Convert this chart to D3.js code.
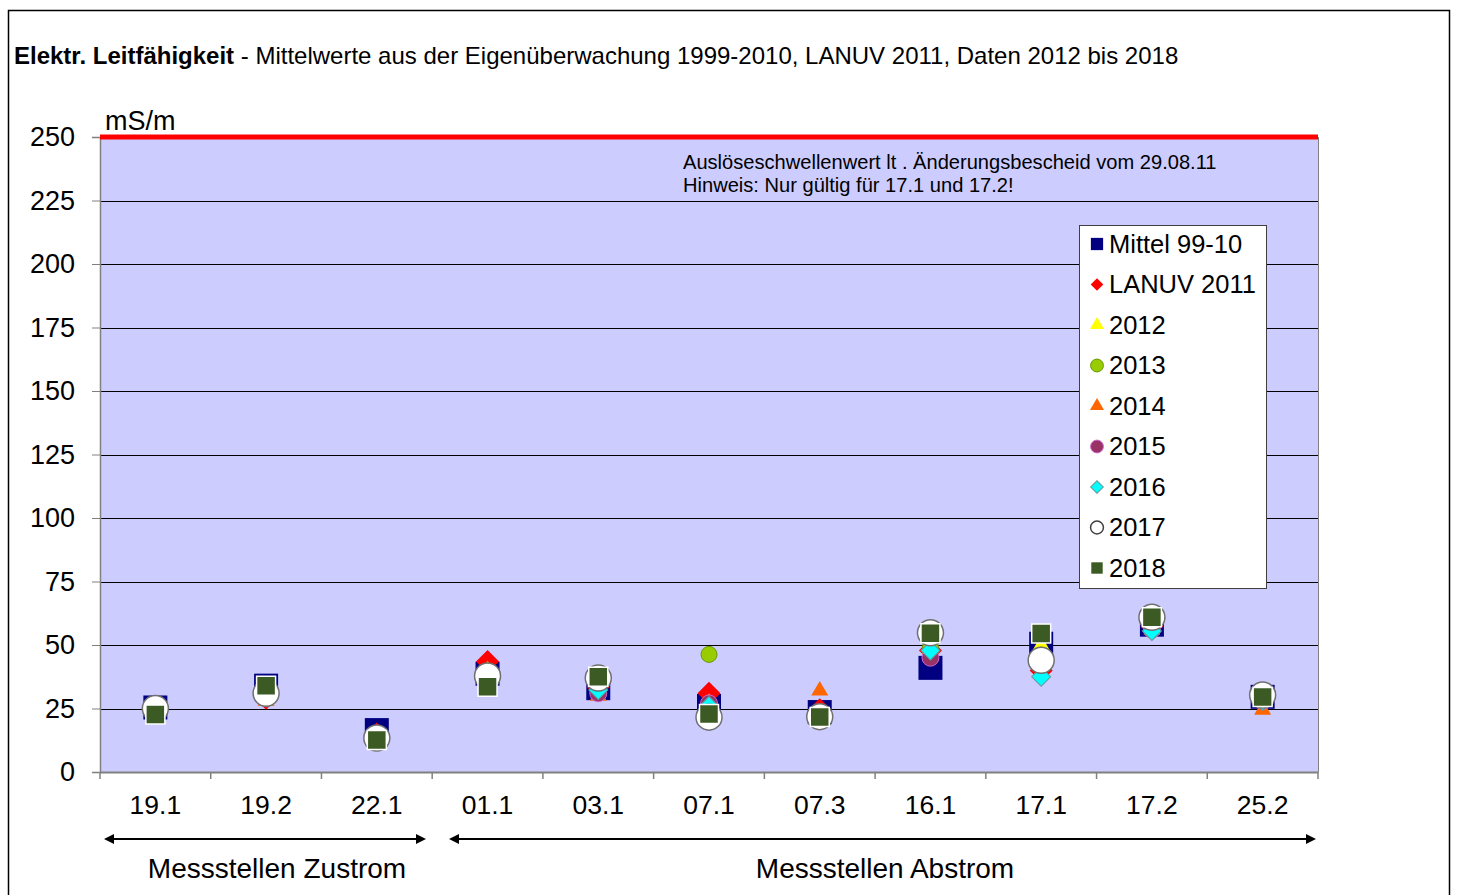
<!DOCTYPE html>
<html>
<head>
<meta charset="utf-8">
<script src="https://cdn.jsdelivr.net/npm/d3@7"></script>
<style>
  body { margin: 0; background: #fff; }
  svg text { font-family: "Liberation Sans", Arial, sans-serif; }
</style>
</head>
<body>
<div id="chart"></div>
<script>
'use strict';

// Messstellen
var stations = ['19.1', '19.2', '22.1', '01.1', '03.1', '07.1', '07.3', '16.1', '17.1', '17.2', '25.2'];
var yTicks = [0, 25, 50, 75, 100, 125, 150, 175, 200, 225, 250];
var threshold = 250;

// series values (mS/m)
var mittel = [25.4, 34, 16.5, 38.7, 33, 26, 23.6, 41, 50.5, 58, 29.6];
var lanuv2011 = [25, 29, 15, 43.5, 33.5, 31, 24.5, 47.8, 40, 57.5, 31];
var y2012 = [25, 30, 14, 40, 34, 27, 23, 49.5, 50, 58, 30];
var y2013 = [24, 30, 14, 39, 33, 46.3, 23, 49, 46, 58, 29];
var y2014 = [24, 28, 14, 40, 30, 27, 32, 48.5, 43, 56, 24.5];
var y2015 = [24, 29, 14, 39, 31, 27, 23, 45, 43, 56, 28];
var y2016 = [24, 30, 14, 38, 32.3, 26, 22, 47.8, 37.5, 55.5, 28];
var y2017 = [25, 31, 13.4, 37.8, 37, 21.6, 21.8, 54.8, 44, 60.9, 30.3];
var y2018 = [22.6, 34, 12.6, 33.6, 37.5, 22.8, 21.7, 54.6, 54.5, 60.9, 29.5];

var seriesNames = ['Mittel 99-10', 'LANUV 2011', '2012', '2013', '2014', '2015', '2016', '2017', '2018'];
var seriesValues = [mittel, lanuv2011, y2012, y2013, y2014, y2015, y2016, y2017, y2018];

// marker styles: type, size (big), size (legend), fill, stroke, stroke width, rotate
var styles = [
    { type: d3.symbolSquare, size: 576, lsize: 150, fill: '#000080', stroke: 'none', sw: 0, rot: 0 },
    { type: d3.symbolSquare, size: 265, lsize: 80, fill: '#ff0000', stroke: 'none', sw: 0, rot: 45 },
    { type: d3.symbolTriangle, size: 125, lsize: 85, fill: '#ffff00', stroke: 'none', sw: 0, rot: 0 },
    { type: d3.symbolCircle, size: 201, lsize: 130, fill: '#99cc00', stroke: '#669900', sw: 1, rot: 0 },
    { type: d3.symbolTriangle, size: 125, lsize: 85, fill: '#ff6600', stroke: 'none', sw: 0, rot: 0 },
    { type: d3.symbolCircle, size: 227, lsize: 130, fill: '#993366', stroke: '#cc66cc', sw: 1, rot: 0 },
    { type: d3.symbolSquare, size: 180, lsize: 80, fill: '#00ffff', stroke: '#669999', sw: 1, rot: 45 },
    { type: d3.symbolCircle, size: 531, lsize: 130, fill: '#ffffff', stroke: '#707070', sw: 1.5, rot: 0 },
    { type: d3.symbolSquare, size: 361, lsize: 130, fill: '#3b5a24', stroke: '#ffffff', sw: 1.5, rot: 0 }
];

var W = 1458, H = 895;
var plot = { left: 100, right: 1318, top: 137, bottom: 772 };

var svg = d3.select('#chart').append('svg')
    .attr('width', W)
    .attr('height', H);

// outer frame
svg.append('rect')
    .attr('x', 8.5).attr('y', 10.5)
    .attr('width', 1441).attr('height', 900)
    .attr('fill', 'none')
    .attr('stroke', '#000')
    .attr('stroke-width', 1.5);

// title
var title = svg.append('text')
    .attr('x', 14)
    .attr('y', 64)
    .attr('font-size', 24)
    .attr('fill', '#000');
title.append('tspan').attr('font-weight', 'bold').text('Elektr. Leitfähigkeit');
title.append('tspan').text(' - Mittelwerte aus der Eigenüberwachung 1999-2010, LANUV 2011, Daten 2012 bis 2018');

var xScale = d3.scaleBand()
    .domain(stations)
    .range([plot.left, plot.right]);

var yScale = d3.scaleLinear()
    .domain([0, 250])
    .range([plot.bottom, plot.top]);

// plot background
svg.append('rect')
    .attr('x', plot.left)
    .attr('y', plot.top)
    .attr('width', plot.right - plot.left)
    .attr('height', plot.bottom - plot.top)
    .attr('fill', '#ccccff');

// gridlines
svg.append('g')
    .selectAll('line')
    .data(yTicks.filter(function (d) { return d > 0 && d < 250; }))
    .enter()
    .append('line')
    .attr('x1', plot.left)
    .attr('x2', plot.right)
    .attr('y1', function (d) { return Math.round(yScale(d)) + 0.5; })
    .attr('y2', function (d) { return Math.round(yScale(d)) + 0.5; })
    .attr('stroke', '#000')
    .attr('stroke-width', 1);

// right border of plot
svg.append('line')
    .attr('x1', plot.right + 0.5).attr('x2', plot.right + 0.5)
    .attr('y1', plot.top).attr('y2', plot.bottom)
    .attr('stroke', '#808080');

// y axis
var yAxis = d3.axisLeft(yScale)
    .tickValues(yTicks)
    .tickSize(8)
    .tickPadding(17);

var gy = svg.append('g')
    .attr('transform', 'translate(' + plot.left + ',0)')
    .call(yAxis);
gy.select('.domain').attr('stroke', '#808080').attr('stroke-width', 1.5);
gy.selectAll('.tick line').attr('stroke', '#808080');
gy.selectAll('.tick text')
    .attr('font-size', 27)
    .attr('fill', '#000')
    .style('font-family', '"Liberation Sans", Arial, sans-serif');

// x axis: ticks at the category boundaries
var bounds = stations.map(function (s) { return xScale(s); }).concat([plot.right]);
var gx = svg.append('g');
gx.append('line')
    .attr('x1', plot.left).attr('x2', plot.right)
    .attr('y1', plot.bottom + 0.5).attr('y2', plot.bottom + 0.5)
    .attr('stroke', '#808080')
    .attr('stroke-width', 2);
gx.selectAll('line.tk')
    .data(bounds)
    .enter()
    .append('line')
    .attr('class', 'tk')
    .attr('x1', function (d) { return d; })
    .attr('x2', function (d) { return d; })
    .attr('y1', plot.bottom)
    .attr('y2', plot.bottom + 7)
    .attr('stroke', '#808080')
    .attr('stroke-width', 1.5);
gx.selectAll('text')
    .data(stations)
    .enter()
    .append('text')
    .attr('x', function (d) { return xScale(d) + xScale.bandwidth() / 2; })
    .attr('y', 814)
    .attr('text-anchor', 'middle')
    .attr('font-size', 26.5)
    .text(function (d) { return d; });

// threshold line
svg.append('line')
    .attr('x1', plot.left)
    .attr('x2', plot.right)
    .attr('y1', yScale(threshold))
    .attr('y2', yScale(threshold))
    .attr('stroke', '#ff0000')
    .attr('stroke-width', 5);

svg.append('text')
    .attr('x', 105)
    .attr('y', 130)
    .attr('font-size', 27)
    .text('mS/m');

svg.append('text')
    .attr('x', 683)
    .attr('y', 169)
    .attr('font-size', 20.1)
    .text('Auslöseschwellenwert lt . Änderungsbescheid vom 29.08.11');
svg.append('text')
    .attr('x', 683)
    .attr('y', 192)
    .attr('font-size', 20.1)
    .text('Hinweis: Nur gültig für 17.1 und 17.2!');

// markers, Mittel first, 2018 on top
function symbolPath(st, big) {
    return d3.symbol().type(st.type).size(big ? st.size : st.lsize)();
}

seriesValues.forEach(function (vals, i) {
    var st = styles[i];
    svg.append('g')
        .selectAll('path')
        .data(vals)
        .enter()
        .append('path')
        .attr('d', symbolPath(st, true))
        .attr('transform', function (d, j) {
            var cx = xScale(stations[j]) + xScale.bandwidth() / 2;
            return 'translate(' + cx + ',' + yScale(d) + ') rotate(' + st.rot + ')';
        })
        .attr('fill', st.fill)
        .attr('stroke', st.stroke)
        .attr('stroke-width', st.sw);
});

// legend
var legend = svg.append('g');
legend.append('rect')
    .attr('x', 1079.5).attr('y', 225.5)
    .attr('width', 187).attr('height', 363)
    .attr('fill', '#fff')
    .attr('stroke', '#404040')
    .attr('stroke-width', 1);

var legendRows = legend.selectAll('g.row')
    .data(seriesNames)
    .enter()
    .append('g')
    .attr('class', 'row')
    .attr('transform', function (d, i) { return 'translate(0,' + (243 + i * 40.5) + ')'; });

legendRows.append('path')
    .attr('d', function (d, i) { return symbolPath(styles[i], false); })
    .attr('transform', function (d, i) { return 'translate(1097,1) rotate(' + styles[i].rot + ')'; })
    .attr('fill', function (d, i) { return styles[i].fill; })
    .attr('stroke', function (d, i) { return i === 7 ? '#404040' : styles[i].stroke; })
    .attr('stroke-width', function (d, i) { return i === 8 ? 0 : styles[i].sw; });

legendRows.append('text')
    .attr('x', 1109)
    .attr('y', 9.5)
    .attr('font-size', 25.5)
    .text(function (d) { return d; });

// arrows below axis
function arrow(x1, x2, y) {
    var g = svg.append('g');
    g.append('line')
        .attr('x1', x1 + 6).attr('x2', x2 - 6)
        .attr('y1', y).attr('y2', y)
        .attr('stroke', '#000')
        .attr('stroke-width', 2);
    g.append('path')
        .attr('d', 'M' + x1 + ',' + y + 'l10,-5l0,10z')
        .attr('fill', '#000');
    g.append('path')
        .attr('d', 'M' + x2 + ',' + y + 'l-10,-5l0,10z')
        .attr('fill', '#000');
}
arrow(104, 426, 839);
arrow(449, 1316, 839);

svg.append('text')
    .attr('x', 277).attr('y', 878)
    .attr('text-anchor', 'middle')
    .attr('font-size', 28)
    .text('Messstellen Zustrom');
svg.append('text')
    .attr('x', 885).attr('y', 878)
    .attr('text-anchor', 'middle')
    .attr('font-size', 28)
    .text('Messstellen Abstrom');
</script>
</body>
</html>
